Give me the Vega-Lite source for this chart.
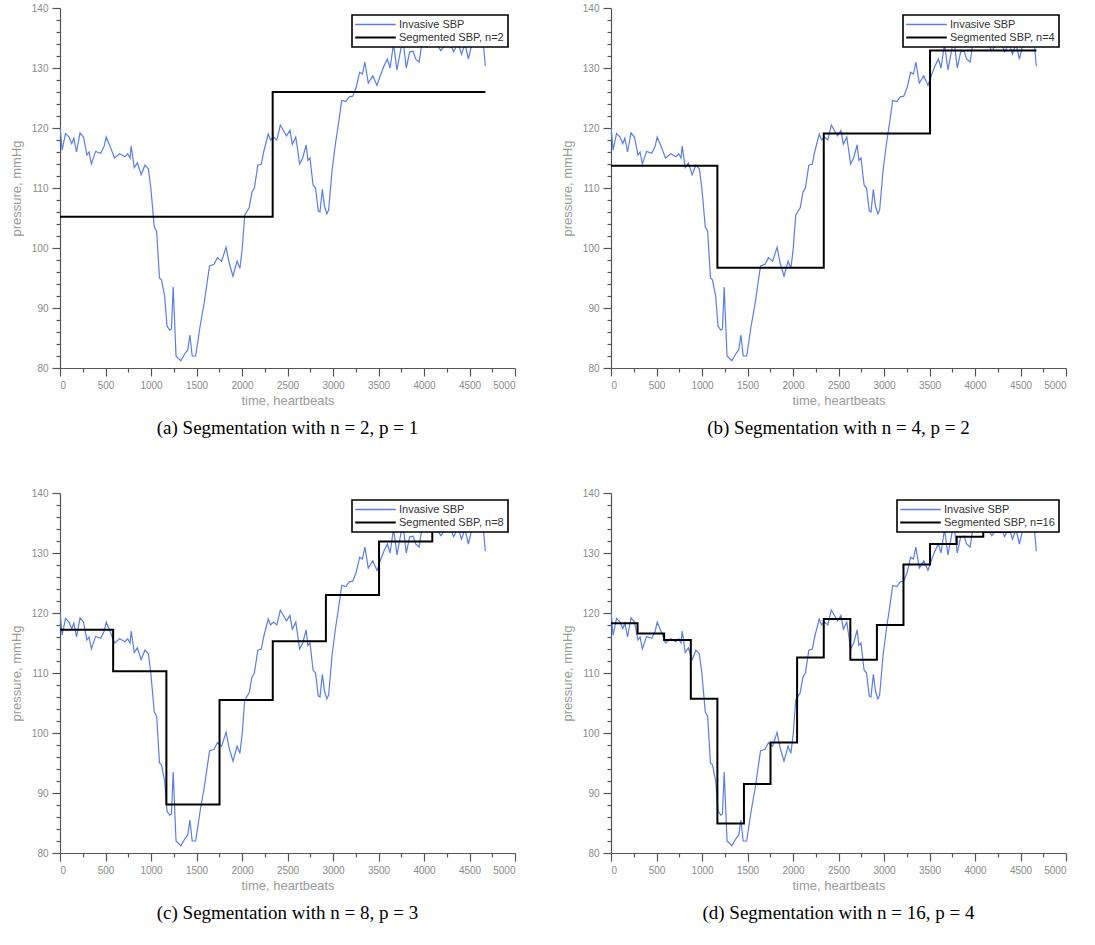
{
  "$schema": "https://vega.github.io/schema/vega-lite/v6.json",
  "background": "white",
  "padding": {"left": 10, "top": 3, "right": 5, "bottom": 5},
  "datasets": {
    "sbp": [
      {"t":0,"p":120.2},{"t":23,"p":116.3},{"t":61,"p":119.1},{"t":99,"p":118.5},{"t":129,"p":117.4},{"t":152,"p":118.3},{"t":182,"p":116.0},{"t":220,"p":119.2},{"t":258,"p":118.5},{"t":296,"p":115.5},{"t":319,"p":116.0},{"t":345,"p":114.0},{"t":391,"p":116.1},{"t":448,"p":115.8},{"t":486,"p":117.0},{"t":508,"p":118.5},{"t":554,"p":116.8},{"t":599,"p":115.0},{"t":656,"p":115.7},{"t":713,"p":115.2},{"t":744,"p":115.7},{"t":770,"p":115.0},{"t":782,"p":117.0},{"t":816,"p":113.4},{"t":850,"p":114.2},{"t":892,"p":112.2},{"t":933,"p":113.8},{"t":971,"p":113.2},{"t":998,"p":110.0},{"t":1036,"p":103.5},{"t":1062,"p":102.8},{"t":1093,"p":95.0},{"t":1115,"p":94.7},{"t":1150,"p":92.0},{"t":1176,"p":87.0},{"t":1206,"p":86.3},{"t":1225,"p":86.5},{"t":1244,"p":93.5},{"t":1275,"p":82.0},{"t":1328,"p":81.2},{"t":1377,"p":82.5},{"t":1404,"p":83.0},{"t":1427,"p":85.5},{"t":1453,"p":82.0},{"t":1491,"p":82.0},{"t":1540,"p":87.0},{"t":1586,"p":91.0},{"t":1643,"p":97.0},{"t":1692,"p":97.3},{"t":1730,"p":98.4},{"t":1776,"p":97.8},{"t":1825,"p":100.1},{"t":1859,"p":97.5},{"t":1901,"p":95.3},{"t":1946,"p":97.8},{"t":1977,"p":96.6},{"t":2003,"p":100.0},{"t":2030,"p":105.5},{"t":2079,"p":106.7},{"t":2109,"p":109.3},{"t":2136,"p":110.0},{"t":2174,"p":113.8},{"t":2212,"p":114.0},{"t":2238,"p":116.0},{"t":2288,"p":119.0},{"t":2314,"p":118.0},{"t":2345,"p":118.5},{"t":2383,"p":118.0},{"t":2421,"p":120.5},{"t":2459,"p":119.5},{"t":2489,"p":118.7},{"t":2527,"p":119.6},{"t":2553,"p":117.3},{"t":2591,"p":118.5},{"t":2610,"p":116.5},{"t":2633,"p":114.0},{"t":2667,"p":115.0},{"t":2705,"p":117.2},{"t":2724,"p":114.6},{"t":2747,"p":115.0},{"t":2781,"p":110.5},{"t":2808,"p":110.0},{"t":2838,"p":106.2},{"t":2857,"p":106.0},{"t":2883,"p":109.8},{"t":2906,"p":107.0},{"t":2933,"p":105.7},{"t":2952,"p":106.3},{"t":2990,"p":113.0},{"t":3028,"p":117.5},{"t":3058,"p":120.5},{"t":3096,"p":124.6},{"t":3141,"p":124.4},{"t":3179,"p":125.2},{"t":3217,"p":125.3},{"t":3255,"p":126.8},{"t":3293,"p":129.3},{"t":3324,"p":129.0},{"t":3350,"p":131.0},{"t":3388,"p":127.5},{"t":3437,"p":128.7},{"t":3483,"p":127.1},{"t":3521,"p":128.8},{"t":3559,"p":130.3},{"t":3597,"p":131.5},{"t":3627,"p":130.0},{"t":3665,"p":134.0},{"t":3703,"p":129.7},{"t":3741,"p":132.8},{"t":3767,"p":135.0},{"t":3805,"p":130.0},{"t":3843,"p":132.7},{"t":3881,"p":132.8},{"t":3908,"p":131.5},{"t":3946,"p":131.0},{"t":3976,"p":134.0},{"t":4033,"p":133.5},{"t":4090,"p":134.5},{"t":4147,"p":133.8},{"t":4185,"p":132.9},{"t":4242,"p":134.0},{"t":4280,"p":134.5},{"t":4325,"p":132.7},{"t":4375,"p":134.2},{"t":4412,"p":132.3},{"t":4450,"p":134.0},{"t":4488,"p":131.5},{"t":4526,"p":134.0},{"t":4564,"p":135.0},{"t":4621,"p":134.0},{"t":4651,"p":134.2},{"t":4674,"p":130.3}
    ],
    "seg2": [{"t":0,"p":105.2},{"t":2337,"p":126.0},{"t":4675,"p":126.0}],
    "seg4": [{"t":0,"p":113.7},{"t":1169,"p":96.7},{"t":2338,"p":119.1},{"t":3506,"p":132.9},{"t":4675,"p":132.9}],
    "seg8": [{"t":0,"p":117.2},{"t":584,"p":110.3},{"t":1169,"p":88.1},{"t":1753,"p":105.5},{"t":2338,"p":115.3},{"t":2922,"p":123.0},{"t":3506,"p":131.9},{"t":4091,"p":133.9},{"t":4675,"p":133.9}],
    "seg16": [{"t":0,"p":118.3},{"t":292,"p":116.6},{"t":584,"p":115.5},{"t":877,"p":105.7},{"t":1169,"p":84.9},{"t":1461,"p":91.5},{"t":1753,"p":98.4},{"t":2045,"p":112.6},{"t":2338,"p":119.0},{"t":2630,"p":112.2},{"t":2922,"p":118.0},{"t":3214,"p":128.1},{"t":3506,"p":131.5},{"t":3799,"p":132.7},{"t":4091,"p":133.5},{"t":4383,"p":134.0},{"t":4675,"p":134.0}]
  },
  "config": {
    "view": {"stroke": null},
    "axis": {
      "grid": false,
      "domainColor": "#555555",
      "tickColor": "#555555",
      "domainWidth": 1.2,
      "tickWidth": 1.2,
      "labelColor": "#8a8a8a",
      "titleColor": "#9a9a9a",
      "labelFont": "Liberation Sans",
      "titleFont": "Liberation Sans",
      "labelFontSize": 10,
      "titleFontSize": 13,
      "titleFontWeight": "normal",
      "labelPadding": 4,
      "format": "d"
    },
    "legend": {
      "orient": "top-right",
      "offset": 7,
      "symbolType": "M-2.7,0H2.7",
      "symbolSize": 225,
      "symbolStrokeWidth": 1.6,
      "symbolOffset": 14,
      "strokeColor": "black",
      "fillColor": "white",
      "padding": 4,
      "rowPadding": 1,
      "labelFont": "Liberation Sans",
      "labelFontSize": 11,
      "labelColor": "#333333",
      "labelOffset": 18
    },
    "title": {
      "orient": "bottom",
      "font": "Liberation Serif",
      "fontSize": 19,
      "fontWeight": "normal",
      "color": "black",
      "offset": 12
    }
  },
  "columns": 2,
  "spacing": {"row": 50, "column": 45},
  "resolve": {"scale": {"color": "independent"}},
  "concat": [
    {
      "width": 455, "height": 360,
      "title": {"text": "(a) Segmentation with n = 2, p = 1"},
      "layer": [
        {
          "data": {"name": "sbp"},
          "mark": {"type": "line", "strokeWidth": 1.2, "clip": true},
          "encoding": {
            "x": {"field": "t", "type": "quantitative", "scale": {"domain": [0, 5000], "nice": false}, "axis": {"values": [0,500,1000,1500,2000,2500,3000,3500,4000,4500,5000], "tickSize": 8, "title": "time, heartbeats", "orient": "bottom", "titlePadding": 4}},
            "y": {"field": "p", "type": "quantitative", "scale": {"domain": [80, 140], "nice": false, "zero": false}, "axis": {"values": [80,90,100,110,120,130,140], "tickSize": 8, "title": "pressure, mmHg", "orient": "left", "titlePadding": 8}},
            "color": {"datum": "Invasive SBP", "type": "nominal", "scale": {"domain": ["Invasive SBP", "Segmented SBP, n=2"], "range": ["#5a7ee6", "#000000"]}, "legend": {"title": null, "encode": {"legend": {"update": {"strokeWidth": {"value": 1.6}}}, "symbols": {"update": {"strokeWidth": {"signal": "datum.value === 'Invasive SBP' ? 1.3 : 2"}}}}}}
          }
        },
        {
          "data": {"name": "seg2"},
          "mark": {"type": "line", "interpolate": "step-after", "strokeWidth": 2, "clip": true},
          "encoding": {
            "x": {"field": "t", "type": "quantitative", "axis": {"values": [250,750,1250,1750,2250,2750,3250,3750,4250,4750], "tickSize": 4, "labels": false, "domain": false, "title": null, "orient": "bottom"}},
            "y": {"field": "p", "type": "quantitative", "axis": {"values": [82,84,86,88,92,94,96,98,102,104,106,108,112,114,116,118,122,124,126,128,132,134,136,138], "tickSize": 4, "labels": false, "domain": false, "title": null, "orient": "left"}},
            "color": {"datum": "Segmented SBP, n=2", "type": "nominal"}
          }
        }
      ],
      "resolve": {"axis": {"x": "independent", "y": "independent"}}
    },
    {
      "width": 455, "height": 360,
      "title": {"text": "(b) Segmentation with n = 4, p = 2"},
      "layer": [
        {
          "data": {"name": "sbp"},
          "mark": {"type": "line", "strokeWidth": 1.2, "clip": true},
          "encoding": {
            "x": {"field": "t", "type": "quantitative", "scale": {"domain": [0, 5000], "nice": false}, "axis": {"values": [0,500,1000,1500,2000,2500,3000,3500,4000,4500,5000], "tickSize": 8, "title": "time, heartbeats", "orient": "bottom", "titlePadding": 4}},
            "y": {"field": "p", "type": "quantitative", "scale": {"domain": [80, 140], "nice": false, "zero": false}, "axis": {"values": [80,90,100,110,120,130,140], "tickSize": 8, "title": "pressure, mmHg", "orient": "left", "titlePadding": 8}},
            "color": {"datum": "Invasive SBP", "type": "nominal", "scale": {"domain": ["Invasive SBP", "Segmented SBP, n=4"], "range": ["#5a7ee6", "#000000"]}, "legend": {"title": null, "encode": {"legend": {"update": {"strokeWidth": {"value": 1.6}}}, "symbols": {"update": {"strokeWidth": {"signal": "datum.value === 'Invasive SBP' ? 1.3 : 2"}}}}}}
          }
        },
        {
          "data": {"name": "seg4"},
          "mark": {"type": "line", "interpolate": "step-after", "strokeWidth": 2, "clip": true},
          "encoding": {
            "x": {"field": "t", "type": "quantitative", "axis": {"values": [250,750,1250,1750,2250,2750,3250,3750,4250,4750], "tickSize": 4, "labels": false, "domain": false, "title": null, "orient": "bottom"}},
            "y": {"field": "p", "type": "quantitative", "axis": {"values": [82,84,86,88,92,94,96,98,102,104,106,108,112,114,116,118,122,124,126,128,132,134,136,138], "tickSize": 4, "labels": false, "domain": false, "title": null, "orient": "left"}},
            "color": {"datum": "Segmented SBP, n=4", "type": "nominal"}
          }
        }
      ],
      "resolve": {"axis": {"x": "independent", "y": "independent"}}
    },
    {
      "width": 455, "height": 360,
      "title": {"text": "(c) Segmentation with n = 8, p = 3"},
      "layer": [
        {
          "data": {"name": "sbp"},
          "mark": {"type": "line", "strokeWidth": 1.2, "clip": true},
          "encoding": {
            "x": {"field": "t", "type": "quantitative", "scale": {"domain": [0, 5000], "nice": false}, "axis": {"values": [0,500,1000,1500,2000,2500,3000,3500,4000,4500,5000], "tickSize": 8, "title": "time, heartbeats", "orient": "bottom", "titlePadding": 4}},
            "y": {"field": "p", "type": "quantitative", "scale": {"domain": [80, 140], "nice": false, "zero": false}, "axis": {"values": [80,90,100,110,120,130,140], "tickSize": 8, "title": "pressure, mmHg", "orient": "left", "titlePadding": 8}},
            "color": {"datum": "Invasive SBP", "type": "nominal", "scale": {"domain": ["Invasive SBP", "Segmented SBP, n=8"], "range": ["#5a7ee6", "#000000"]}, "legend": {"title": null, "encode": {"legend": {"update": {"strokeWidth": {"value": 1.6}}}, "symbols": {"update": {"strokeWidth": {"signal": "datum.value === 'Invasive SBP' ? 1.3 : 2"}}}}}}
          }
        },
        {
          "data": {"name": "seg8"},
          "mark": {"type": "line", "interpolate": "step-after", "strokeWidth": 2, "clip": true},
          "encoding": {
            "x": {"field": "t", "type": "quantitative", "axis": {"values": [250,750,1250,1750,2250,2750,3250,3750,4250,4750], "tickSize": 4, "labels": false, "domain": false, "title": null, "orient": "bottom"}},
            "y": {"field": "p", "type": "quantitative", "axis": {"values": [82,84,86,88,92,94,96,98,102,104,106,108,112,114,116,118,122,124,126,128,132,134,136,138], "tickSize": 4, "labels": false, "domain": false, "title": null, "orient": "left"}},
            "color": {"datum": "Segmented SBP, n=8", "type": "nominal"}
          }
        }
      ],
      "resolve": {"axis": {"x": "independent", "y": "independent"}}
    },
    {
      "width": 455, "height": 360,
      "title": {"text": "(d) Segmentation with n = 16, p = 4"},
      "layer": [
        {
          "data": {"name": "sbp"},
          "mark": {"type": "line", "strokeWidth": 1.2, "clip": true},
          "encoding": {
            "x": {"field": "t", "type": "quantitative", "scale": {"domain": [0, 5000], "nice": false}, "axis": {"values": [0,500,1000,1500,2000,2500,3000,3500,4000,4500,5000], "tickSize": 8, "title": "time, heartbeats", "orient": "bottom", "titlePadding": 4}},
            "y": {"field": "p", "type": "quantitative", "scale": {"domain": [80, 140], "nice": false, "zero": false}, "axis": {"values": [80,90,100,110,120,130,140], "tickSize": 8, "title": "pressure, mmHg", "orient": "left", "titlePadding": 8}},
            "color": {"datum": "Invasive SBP", "type": "nominal", "scale": {"domain": ["Invasive SBP", "Segmented SBP, n=16"], "range": ["#5a7ee6", "#000000"]}, "legend": {"title": null, "encode": {"legend": {"update": {"strokeWidth": {"value": 1.6}}}, "symbols": {"update": {"strokeWidth": {"signal": "datum.value === 'Invasive SBP' ? 1.3 : 2"}}}}}}
          }
        },
        {
          "data": {"name": "seg16"},
          "mark": {"type": "line", "interpolate": "step-after", "strokeWidth": 2, "clip": true},
          "encoding": {
            "x": {"field": "t", "type": "quantitative", "axis": {"values": [250,750,1250,1750,2250,2750,3250,3750,4250,4750], "tickSize": 4, "labels": false, "domain": false, "title": null, "orient": "bottom"}},
            "y": {"field": "p", "type": "quantitative", "axis": {"values": [82,84,86,88,92,94,96,98,102,104,106,108,112,114,116,118,122,124,126,128,132,134,136,138], "tickSize": 4, "labels": false, "domain": false, "title": null, "orient": "left"}},
            "color": {"datum": "Segmented SBP, n=16", "type": "nominal"}
          }
        }
      ],
      "resolve": {"axis": {"x": "independent", "y": "independent"}}
    }
  ]
}
